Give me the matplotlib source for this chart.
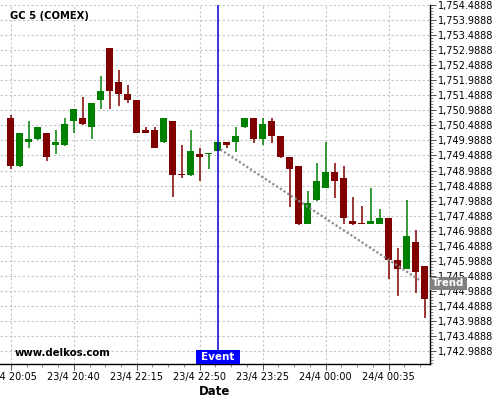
import matplotlib
matplotlib.use("Agg")
import matplotlib.pyplot as plt
from matplotlib.ticker import MultipleLocator, FixedLocator, FuncFormatter
from matplotlib.transforms import blended_transform_factory
from matplotlib.patches import Rectangle
import numpy as np

title = "GC 5 (COMEX)"
watermark = "www.delkos.com"
x_labels = ["23/4 20:05", "23/4 20:40", "23/4 22:15", "23/4 22:50",
            "23/4 23:25", "24/4 00:00", "24/4 00:35"]
x_label_pos = [0, 7, 14, 21, 28, 35, 42]

opens = [1750.73, 1749.15, 1749.94, 1750.03, 1750.23, 1749.84, 1749.84, 1750.63,
         1750.73, 1750.44, 1751.34, 1753.05, 1751.92, 1751.53, 1751.33, 1750.33,
         1750.33, 1749.94, 1750.63, 1748.88, 1748.85, 1749.55, 1749.54, 1749.65,
         1749.93, 1749.94, 1750.43, 1750.73, 1750.04, 1750.63, 1750.13, 1749.44,
         1749.14, 1747.21, 1748.01, 1748.41, 1748.94, 1748.74, 1747.31, 1747.26,
         1747.22, 1747.22, 1747.41, 1746.02, 1745.73, 1746.62, 1745.82]
highs = [1750.83, 1750.23, 1750.63, 1750.43, 1750.23, 1750.33, 1750.73, 1751.03,
         1751.43, 1751.23, 1752.11, 1753.05, 1752.32, 1751.83, 1751.33, 1750.43,
         1750.43, 1750.73, 1750.63, 1749.82, 1750.33, 1749.72, 1749.57, 1749.93,
         1749.93, 1750.43, 1750.73, 1750.73, 1750.73, 1750.73, 1750.13, 1749.44,
         1749.14, 1748.30, 1749.23, 1749.92, 1749.23, 1749.13, 1748.10, 1747.80,
         1748.40, 1747.70, 1747.41, 1746.42, 1748.00, 1747.01, 1745.82]
lows = [1749.03, 1749.11, 1749.72, 1750.01, 1749.31, 1749.53, 1749.81, 1750.23,
        1750.51, 1750.03, 1751.02, 1751.02, 1751.12, 1751.22, 1750.22, 1750.22,
        1749.72, 1749.91, 1748.10, 1748.74, 1748.82, 1748.63, 1749.03, 1749.65,
        1749.72, 1749.62, 1750.40, 1749.91, 1749.82, 1749.91, 1749.41, 1747.79,
        1747.18, 1747.21, 1747.99, 1748.41, 1748.09, 1747.21, 1747.19, 1747.21,
        1747.21, 1747.21, 1745.40, 1744.81, 1745.73, 1744.91, 1744.08]
closes = [1749.15, 1750.23, 1750.03, 1750.43, 1749.45, 1749.93, 1750.53, 1751.03,
          1750.53, 1751.23, 1751.63, 1751.64, 1751.54, 1751.34, 1750.24, 1750.24,
          1749.74, 1750.73, 1748.85, 1748.85, 1749.64, 1749.45, 1749.57, 1749.93,
          1749.84, 1750.13, 1750.73, 1750.04, 1750.53, 1750.13, 1749.45, 1749.05,
          1747.21, 1747.91, 1748.64, 1748.94, 1748.64, 1747.41, 1747.21, 1747.22,
          1747.31, 1747.41, 1746.03, 1745.73, 1746.82, 1745.63, 1744.73]

event_index = 23
trend_x = [23.3, 45.4]
trend_y = [1749.69, 1745.36]
trend_label_y = 1745.25

y_top = 1754.4888
y_bottom = 1742.568

fig = plt.figure(figsize=(5, 4), dpi=100)
ax = fig.add_axes([0.0, 0.09, 0.86, 0.898])

up_col = "#008000"
dn_col = "#800000"
idx = np.arange(len(opens))
o = np.array(opens); c = np.array(closes); h = np.array(highs); l = np.array(lows)
cols = [up_col if cc >= oo else dn_col for oo, cc in zip(o, c)]
ax.vlines(idx, l, h, colors=cols, linewidth=1.1, zorder=3)
body_bottom = np.minimum(o, c)
body_h = np.maximum(np.abs(c - o), 0.035)
ax.bar(idx, body_h, bottom=body_bottom, width=0.78, color=cols, linewidth=0, zorder=4)

# event line + label
ax.axvline(event_index, color="#0000cc", linewidth=1.1, zorder=5)
bt = blended_transform_factory(ax.transData, ax.transAxes)
ax.add_patch(Rectangle((event_index - 2.45, 0.0), 4.9, 0.039, transform=bt,
                       facecolor="#0000ff", edgecolor="none", zorder=6))
ax.text(event_index, 0.0195, "Event", transform=bt, ha="center", va="center",
        color="white", fontsize=7.5, fontweight="bold", zorder=7)

# trend line + label
ax.plot(trend_x, trend_y, color="#8c8c8c", linewidth=1.6, linestyle=(0, (1, 1)), zorder=5)
tt = blended_transform_factory(ax.transAxes, ax.transData)
ax.add_patch(Rectangle((1.0, trend_label_y - 0.215), 37 / 430, 0.43, transform=tt,
                       facecolor="#808080", edgecolor="none", clip_on=False, zorder=7))
ax.text(1.0 + 18.5 / 430, trend_label_y, "Trend", transform=tt, ha="center", va="center",
        color="white", fontsize=7.3, fontweight="bold", clip_on=False, zorder=8)

ax.set_xlim(-1.2, 46.6)
ax.set_ylim(y_bottom, y_top)

ax.yaxis.tick_right()
ax.yaxis.set_label_position("right")
ax.yaxis.set_major_locator(FixedLocator(np.arange(1742.9888, 1754.5, 0.5)))
ax.yaxis.set_minor_locator(FixedLocator(np.arange(1742.5888, 1754.5, 0.1)))
ax.yaxis.set_major_formatter(FuncFormatter(lambda v, p: f"{v:,.4f}"))

ax.set_xticks(x_label_pos)
ax.set_xticklabels(x_labels)
ax.xaxis.set_minor_locator(MultipleLocator(1.75))

ax.tick_params(axis="both", which="major", labelsize=7, length=4, width=0.6, color="#333333", pad=2)
ax.tick_params(axis="both", which="minor", length=2, width=0.5, color="#555555")

for s in ["left", "top"]:
    ax.spines[s].set_visible(False)
ax.spines["bottom"].set_linewidth(1.0)
ax.spines["right"].set_linewidth(1.0)

ax.grid(True, which="major", color="#c4c4c4", linestyle=(0, (2, 2)), linewidth=0.8)
ax.set_axisbelow(True)

ax.set_xlabel("Date", fontsize=8.5, fontweight="bold", labelpad=2)

ax.text(10 / 430, 0.969, title, transform=ax.transAxes, fontsize=7.2, fontweight="bold",
        ha="left", va="center")
ax.text(15 / 430, 0.03, watermark, transform=ax.transAxes, fontsize=7.3, fontweight="bold",
        ha="left", va="center")

fig.savefig("out.png", dpi=100)
